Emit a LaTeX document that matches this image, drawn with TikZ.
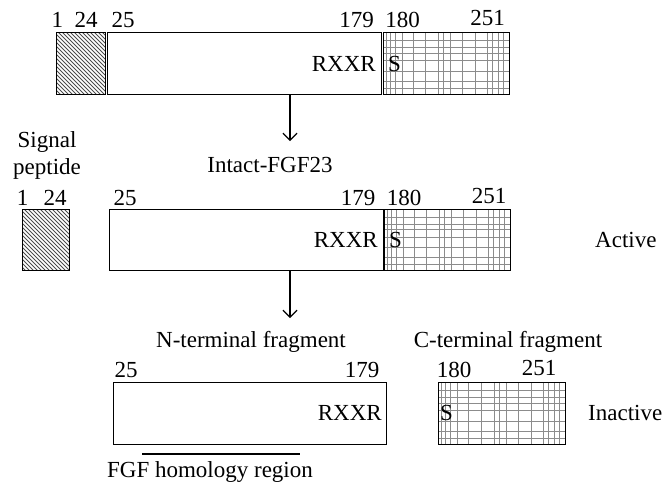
\documentclass[tikz,border=0pt]{standalone}
\usepackage{fontspec}
\setmainfont{Liberation Serif}
\usetikzlibrary{arrows.meta,calc}

\definecolor{hatchgray}{gray}{0.3}
\definecolor{gridgray}{gray}{0.55}

\tikzset{
  lbl/.style={font=\fontsize{23}{27}\selectfont, inner sep=0pt},
  box/.style={draw, line width=1.4pt, inner sep=0pt, anchor=north west},
  sigbox/.style={box, path picture={
      \foreach \i in {-70,-66,...,56}
        \draw[hatchgray, line width=1pt] ([xshift={\i*1pt}]path picture bounding box.north west) -- ++(72pt,-72pt);
    }},
  cbox/.style={box, path picture={
      \foreach \f in {.024,.056,.095,.151,.238,.333,.437,.476,.532,.627,.730,.825,.865,.913,.952}
        \draw[gridgray, line width=0.9pt] ($(path picture bounding box.north west)!\f!(path picture bounding box.north east)$)
          -- ($(path picture bounding box.south west)!\f!(path picture bounding box.south east)$);
      \foreach \f in {.13,.24,.33,.45,.62,.78,.9}
        \draw[gridgray, line width=0.9pt] ($(path picture bounding box.north west)!\f!(path picture bounding box.south west)$)
          -- ($(path picture bounding box.north east)!\f!(path picture bounding box.south east)$);
    }},
  arr/.style={line width=1.2pt, -{Straight Barb[length=7pt,width=14pt,line width=1.2pt]}}
}

\begin{document}
\begin{tikzpicture}[x=1pt, y=-1pt]
  \useasboundingbox (0,0) rectangle (665,488);

  % precursor
  \node[sigbox, minimum width=49pt, minimum height=62pt] (sig1) at (56,32) {};
  \node[box, minimum width=274pt, minimum height=62pt] (main1) at (107,32) {};
  \node[cbox, minimum width=126pt, minimum height=62pt] (cter1) at (383,32) {};
  \node[lbl, anchor=base] (n1a) at (57.5,27) {1};
  \node[lbl, anchor=base] (n1b) at (86,27) {24};
  \node[lbl, anchor=base] (n1c) at (123,27) {25};
  \node[lbl, anchor=base] (n1d) at (356.5,27) {179};
  \node[lbl, anchor=base] (n1e) at (402.5,27) {180};
  \node[lbl, anchor=base] (n1f) at (487.5,25) {251};
  \node[lbl, anchor=base east] (rxxr1) at (376,71) {RXXR};
  \node[lbl, anchor=base west] (s1) at (388,71) {S};

  \coordinate (tip1) at (290,141);
  \draw[arr] (main1.south -| tip1) -- (tip1);
  \node[lbl, anchor=base] (intact) at (270,172) {Intact-FGF23};

  % intact FGF23
  \node[lbl, align=center] (sigtxt) at (47,155) {Signal\\peptide};
  \node[sigbox, minimum width=47pt, minimum height=61pt] (sig2) at (22,209) {};
  \node[box, minimum width=274pt, minimum height=61pt] (main2) at (109,209) {};
  \node[cbox, minimum width=126pt, minimum height=61pt] (cter2) at (384,209) {};
  \node[lbl, anchor=base] (n2a) at (22.5,205) {1};
  \node[lbl, anchor=base] (n2b) at (55,205) {24};
  \node[lbl, anchor=base] (n2c) at (125,205) {25};
  \node[lbl, anchor=base] (n2d) at (358,205) {179};
  \node[lbl, anchor=base] (n2e) at (404,205) {180};
  \node[lbl, anchor=base] (n2f) at (489,203) {251};
  \node[lbl, anchor=base east] (rxxr2) at (378,247) {RXXR};
  \node[lbl, anchor=base west] (s2) at (389,247) {S};
  \node[lbl, anchor=base west] (active) at (595,247) {Active};

  \coordinate (tip2) at (290,318);
  \draw[arr] (main2.south -| tip2) -- (tip2);

  % fragments
  \node[lbl, anchor=base] (nfrag) at (251,347) {N-terminal fragment};
  \node[lbl, anchor=base] (cfrag) at (508,347) {C-terminal fragment};
  \node[box, minimum width=273pt, minimum height=62pt] (nter3) at (113,382) {};
  \node[cbox, minimum width=127pt, minimum height=62pt] (cter3) at (438,382) {};
  \node[lbl, anchor=base] (n3a) at (126,377) {25};
  \node[lbl, anchor=base] (n3b) at (362,377) {179};
  \node[lbl, anchor=base] (n3c) at (454,377) {180};
  \node[lbl, anchor=base] (n3d) at (539,375) {251};
  \node[lbl, anchor=base east] (rxxr3) at (382,420) {RXXR};
  \node[lbl, anchor=base west] (s3) at (440,420) {S};
  \node[lbl, anchor=base west] (inactive) at (588,420) {Inactive};

  \coordinate (hom1) at (142,454);
  \coordinate (hom2) at (300,454);
  \draw[line width=1.2pt] (hom1) -- (hom2);
  \node[lbl, anchor=base] (homtxt) at (210,477) {FGF homology region};
\end{tikzpicture}
\end{document}
